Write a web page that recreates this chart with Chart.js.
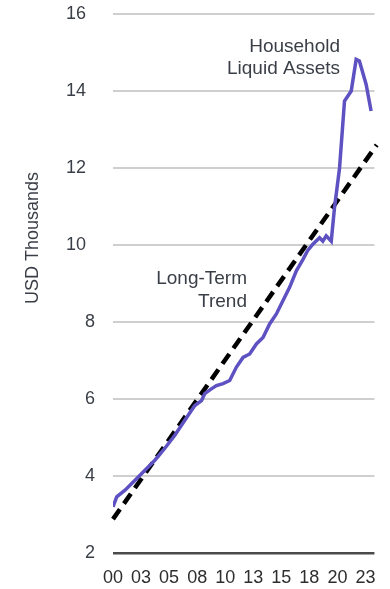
<!DOCTYPE html>
<html>
<head>
<meta charset="utf-8">
<script src="https://cdn.jsdelivr.net/npm/chart.js@4"></script>
<style>
  html, body { margin: 0; padding: 0; background: #fff; }
  #wrap { width: 390px; height: 589px; }
</style>
</head>
<body>
<div id="wrap"><canvas id="myChart"></canvas></div>
<script>
// household liquid assets (year, USD thousands)
var assetYears = [2000.0, 2000.33, 2001.07, 2001.96, 2002.85, 2003.73, 2004.62, 2005.51, 2006.4, 2007.29,
  2007.89, 2008.18, 2008.7, 2009.22, 2009.81, 2010.4, 2011.0, 2011.59, 2012.18, 2012.78,
  2013.37, 2013.96, 2014.56, 2015.14, 2015.74, 2016.34, 2016.92, 2017.34, 2017.81, 2018.41,
  2018.7, 2019.0, 2019.45, 2019.74, 2020.19, 2020.63, 2021.23, 2021.67, 2021.96, 2022.56, 2023.0];
var assetValues = [3.20, 3.46, 3.63, 3.89, 4.15, 4.41, 4.72, 5.06, 5.45, 5.83,
  5.96, 6.14, 6.25, 6.35, 6.40, 6.48, 6.83, 7.08, 7.17, 7.43,
  7.60, 7.95, 8.21, 8.55, 8.90, 9.33, 9.62, 9.85, 10.02, 10.19,
  10.10, 10.24, 10.10, 10.97, 12.0, 13.74, 14.0, 14.82, 14.78, 14.17, 13.48];

// long-term trend end points
var trendYears = [2000, 2023.5];
var trendValues = [2.88, 12.6];

var xTickYears = [2000, 2002.5, 2005, 2007.5, 2010, 2012.5, 2015, 2017.5, 2020, 2022.5];
var xTickLabels = ['00', '03', '05', '08', '10', '13', '15', '18', '20', '23'];
var yTicks = [2, 4, 6, 8, 10, 12, 14, 16];

var FONT = '"Liberation Sans", Arial, Helvetica, sans-serif';

function toPoints(xs, ys) {
    var pts = [];
    for (var i = 0; i < xs.length; i++) {
        pts.push({ x: xs[i], y: ys[i] });
    }
    return pts;
}

// text labels drawn straight onto the canvas
const labelsPlugin = {
    id: 'labelsPlugin',
    afterDraw(chart) {
        const ctx = chart.ctx;
        ctx.save();
        ctx.fillStyle = '#3a3f47';
        ctx.font = '19px ' + FONT;
        ctx.textAlign = 'right';
        ctx.textBaseline = 'middle';
        ctx.fillText('Household', 340, 47);
        ctx.fillText('Liquid Assets', 340, 69);
        ctx.fillText('Long-Term', 247, 279);
        ctx.fillText('Trend', 247, 302);

        // y axis title
        ctx.font = '18px ' + FONT;
        ctx.translate(33, 238);
        ctx.rotate(-Math.PI / 2);
        ctx.textAlign = 'center';
        ctx.fillText('USD Thousands', 0, 0);
        ctx.restore();
    }
};

var data = {
    datasets: [{
        label: 'Household Liquid Assets',
        data: toPoints(assetYears, assetValues),
        borderColor: '#5e51c2',
        borderWidth: 3.5,
        pointRadius: 0,
        tension: 0
    }, {
        label: 'Long-Term Trend',
        data: toPoints(trendYears, trendValues),
        borderColor: '#000',
        borderWidth: 4.5,
        borderDash: [12, 7],
        pointRadius: 0,
        clip: false
    }]
};

const config = {
    type: 'line',
    data: data,
    plugins: [labelsPlugin],
    options: {
        responsive: true,
        maintainAspectRatio: false,
        animation: false,
        layout: { padding: { left: 0, top: 14, right: 15, bottom: 0 } },
        plugins: {
            legend: { display: false },
            tooltip: { enabled: false }
        },
        scales: {
            x: {
                type: 'linear',
                min: 2000,
                max: 2023.3,
                afterBuildTicks: function (axis) {
                    axis.ticks = xTickYears.map(function (v) { return { value: v }; });
                },
                afterFit: function (axis) { axis.height = 36; },
                grid: { display: false, drawTicks: false },
                border: { display: false },
                ticks: {
                    autoSkip: false,
                    maxRotation: 0,
                    padding: 14,
                    color: '#2e2e2e',
                    font: { family: FONT, size: 18 },
                    callback: function (v, i) { return xTickLabels[i]; }
                }
            },
            y: {
                min: 2,
                max: 16,
                afterBuildTicks: function (axis) {
                    axis.ticks = yTicks.map(function (v) { return { value: v }; });
                },
                afterFit: function (axis) {
                    axis.width = 113;
                    axis.paddingTop = 0;
                    axis.paddingBottom = 0;
                },
                grid: {
                    drawTicks: false,
                    lineWidth: function (c) { return c.tick && c.tick.value === 2 ? 2.5 : 2; },
                    color: function (c) { return c.tick && c.tick.value === 2 ? '#4a4a4a' : '#cfcfcf'; }
                },
                border: { display: false },
                ticks: {
                    padding: 18,
                    color: '#3a3f47',
                    font: { family: FONT, size: 18 },
                    callback: function (v) { return v >= 10 ? v + '\u2002' : String(v); }
                }
            }
        }
    }
};

var ctx1 = document.getElementById('myChart').getContext('2d');
const chart1 = new Chart(ctx1, config);
</script>
</body>
</html>
